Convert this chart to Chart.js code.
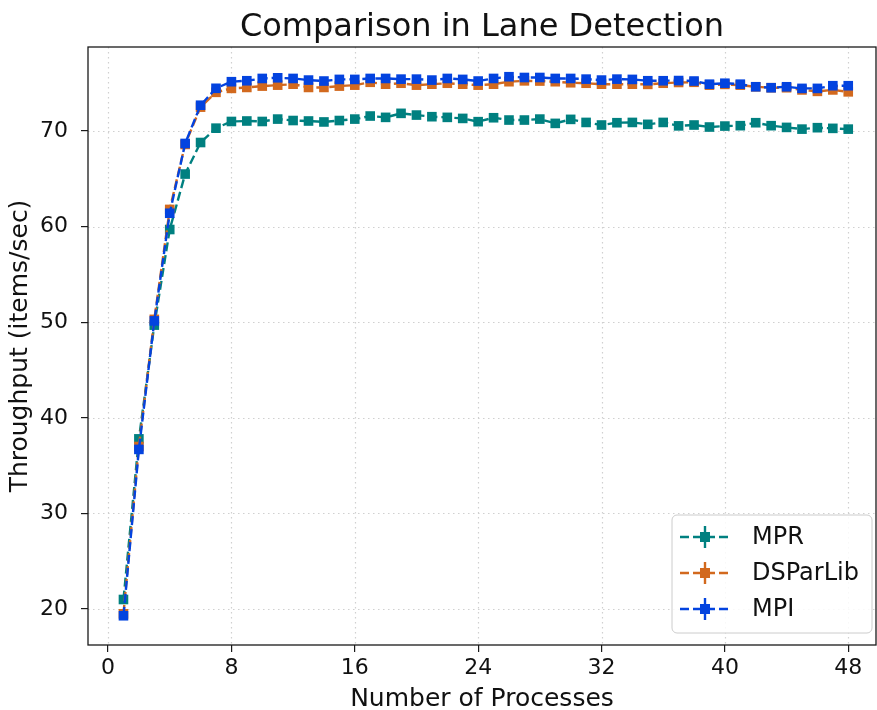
<!DOCTYPE html>
<html>
<head>
<meta charset="utf-8">
<script src="https://cdn.jsdelivr.net/npm/chart.js@4.4.1/dist/chart.umd.min.js"></script>
<style>
  html, body { margin: 0; padding: 0; background: #fff; overflow: hidden; }
  canvas { display: block; }
</style>
</head>
<body>
<canvas id="chart" width="877" height="710"></canvas>
<script>
// processes 1..48
const procs = [];
for (let p = 1; p <= 48; p++) procs.push(p);

const mpr = [21.0, 37.8, 49.7, 59.7, 65.5, 68.8, 70.3, 71.0, 71.05, 71.0,
  71.25, 71.1, 71.05, 70.95, 71.1, 71.25, 71.57, 71.43, 71.85, 71.67,
  71.5, 71.43, 71.32, 70.98, 71.39, 71.15, 71.15, 71.25, 70.8, 71.22,
  70.9, 70.63, 70.87, 70.9, 70.7, 70.9, 70.54, 70.63, 70.42, 70.52,
  70.56, 70.87, 70.56, 70.38, 70.2, 70.35, 70.28, 70.2];

const dsparlib = [19.5, 37.0, 50.3, 61.8, 68.6, 72.5, 74.05, 74.46, 74.56, 74.7,
  74.8, 74.9, 74.56, 74.56, 74.7, 74.8, 75.1, 74.9, 75.0, 74.8,
  74.9, 75.0, 74.9, 74.8, 74.9, 75.16, 75.25, 75.23, 75.16, 75.05,
  75.0, 74.9, 74.9, 74.9, 74.88, 75.0, 75.08, 75.1, 74.8, 74.88,
  74.8, 74.63, 74.53, 74.53, 74.3, 74.15, 74.3, 74.1];

const mpi = [19.3, 36.7, 50.14, 61.4, 68.7, 72.7, 74.47, 75.16, 75.26, 75.5,
  75.57, 75.5, 75.33, 75.23, 75.4, 75.4, 75.5, 75.5, 75.43, 75.43,
  75.33, 75.5, 75.4, 75.23, 75.5, 75.68, 75.6, 75.6, 75.5, 75.5,
  75.43, 75.33, 75.43, 75.4, 75.26, 75.26, 75.28, 75.23, 74.9, 75.0,
  74.9, 74.63, 74.53, 74.63, 74.46, 74.46, 74.74, 74.74];

const xTicks = [0, 8, 16, 24, 32, 40, 48];
const yTicks = [20, 30, 40, 50, 60, 70];

const names = ['MPR', 'DSParLib', 'MPI'];
const colors = ['#008080', '#d2691e', '#0343df'];
const chartTitle = 'Comparison in Lane Detection';
const FONT = "'DejaVu Sans', sans-serif";

function series(i, values) {
  return {
    label: names[i],
    data: procs.map((p, k) => ({ x: p, y: values[k] })),
    borderColor: colors[i],
    backgroundColor: colors[i],
    borderWidth: 2.4,
    borderDash: [9, 4],
    pointStyle: 'rect',
    pointRadius: 6.8,
    pointHoverRadius: 6.8,
    pointBorderWidth: 0,
    order: 3 - i
  };
}

// dotted grid, full frame box and a title centred over the plot area
const gridAndFrame = {
  id: 'gridAndFrame',
  beforeDatasetsDraw(chart) {
    const { ctx, chartArea: a, scales: { x, y } } = chart;
    ctx.save();
    ctx.strokeStyle = '#d0d0d0';
    ctx.lineWidth = 1.2;
    ctx.setLineDash([1.5, 3.5]);
    xTicks.forEach(v => {
      const px = Math.round(x.getPixelForValue(v)) + 0.5;
      ctx.beginPath(); ctx.moveTo(px, a.top); ctx.lineTo(px, a.bottom); ctx.stroke();
    });
    yTicks.forEach(v => {
      const py = Math.round(y.getPixelForValue(v)) + 0.5;
      ctx.beginPath(); ctx.moveTo(a.left, py); ctx.lineTo(a.right, py); ctx.stroke();
    });
    ctx.restore();
  },
  afterDatasetsDraw(chart) {
    const { ctx, chartArea: a } = chart;
    ctx.save();
    ctx.strokeStyle = '#1a1a1a';
    ctx.lineWidth = 1.3;
    ctx.strokeRect(a.left, a.top, a.right - a.left, a.bottom - a.top);
    ctx.fillStyle = '#111';
    ctx.font = '32px ' + FONT;
    ctx.textAlign = 'center';
    ctx.textBaseline = 'middle';
    ctx.fillText(chartTitle, (a.left + a.right) / 2, 28);
    ctx.restore();
  }
};

// legend box in the lower right corner, errorbar-style handles
const legendBox = {
  id: 'legendBox',
  afterDraw(chart) {
    const { ctx, chartArea: a } = chart;
    const w = 200, h = 118;
    const x0 = a.right - w - 4, y0 = a.bottom - h - 12;
    ctx.save();
    ctx.beginPath();
    ctx.roundRect(x0, y0, w, h, 5);
    ctx.fillStyle = 'rgba(255,255,255,0.85)';
    ctx.fill();
    ctx.strokeStyle = '#cccccc';
    ctx.lineWidth = 1;
    ctx.stroke();
    names.forEach((name, i) => {
      const cy = y0 + 22 + i * 36;
      const c = colors[i];
      ctx.strokeStyle = c;
      ctx.fillStyle = c;
      ctx.lineWidth = 2.4;
      ctx.setLineDash([9, 4]);
      ctx.beginPath(); ctx.moveTo(x0 + 8, cy); ctx.lineTo(x0 + 59, cy); ctx.stroke();
      ctx.setLineDash([]);
      ctx.beginPath(); ctx.moveTo(x0 + 33, cy - 11); ctx.lineTo(x0 + 33, cy + 11); ctx.stroke();
      ctx.fillRect(x0 + 33 - 5, cy - 5, 10, 10);
      ctx.fillStyle = '#111';
      ctx.font = '24px ' + FONT;
      ctx.textBaseline = 'middle';
      ctx.fillText(name, x0 + 80, cy + 1);
    });
    ctx.restore();
  }
};

new Chart(document.getElementById('chart'), {
  type: 'line',
  data: {
    datasets: [series(0, mpr), series(1, dsparlib), series(2, mpi)]
  },
  options: {
    responsive: false,
    animation: false,
    layout: { autoPadding: false, padding: { right: 1, left: 0, top: 47, bottom: 0 } },
    plugins: {
      legend: { display: false },
      tooltip: { enabled: false },
      title: { display: false }
    },
    scales: {
      x: {
        type: 'linear',
        min: -1.3,
        max: 49.8,
        afterBuildTicks: s => { s.ticks = xTicks.map(v => ({ value: v })); },
        afterFit: s => { s.height = 65; s.paddingLeft = 0; s.paddingRight = 0; },
        border: { display: false },
        grid: { drawOnChartArea: false, tickLength: 7, color: '#1a1a1a', lineWidth: 1.2 },
        ticks: { color: '#111', padding: 3, maxRotation: 0, font: { family: FONT, size: 22 } },
        title: {
          display: true,
          text: 'Number of Processes',
          color: '#111',
          font: { family: FONT, size: 25 },
          padding: { top: 0, bottom: -4 }
        }
      },
      y: {
        min: 16.24,
        max: 78.79,
        afterBuildTicks: s => { s.ticks = yTicks.map(v => ({ value: v })); },
        afterFit: s => { s.width = 88; s.paddingTop = 0; s.paddingBottom = 0; },
        border: { display: false },
        grid: { drawOnChartArea: false, tickLength: 7, color: '#1a1a1a', lineWidth: 1.2 },
        ticks: { color: '#111', padding: 13, font: { family: FONT, size: 22 } },
        title: {
          display: true,
          text: 'Throughput (items/sec)',
          color: '#111',
          font: { family: FONT, size: 25 },
          padding: { top: 5, bottom: 0 }
        }
      }
    }
  },
  plugins: [gridAndFrame, legendBox]
});
</script>
</body>
</html>
